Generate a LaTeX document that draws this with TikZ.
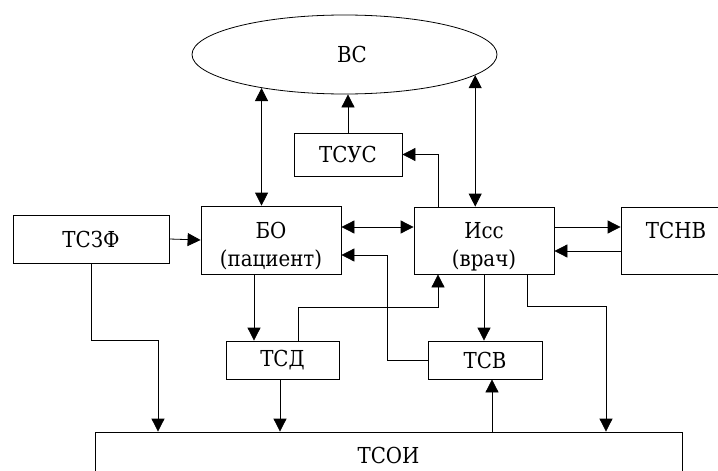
\documentclass[tikz,border=0pt]{standalone}
\usepackage{fontspec}
\setmainfont{DejaVu Serif Condensed}
\newfontfamily\blockfont{DejaVu Serif Condensed}
\usepackage{tikz}
\usetikzlibrary{calc,shapes.geometric,arrows.meta}

\begin{document}
\begin{tikzpicture}[x=1pt, y=-1pt, line width=0.8pt,
        block/.style={draw, rectangle, inner sep=0pt, align=center, font=\blockfont\fontsize{22}{28}\selectfont},
        twoline/.style={text height=54pt, text depth=2pt},
        arr/.style={-{Triangle[length=13pt,width=13pt]}},
        arrr/.style={{Triangle[length=13pt,width=13pt]}-{Triangle[length=13pt,width=13pt]}}]
            \useasboundingbox (0,0) rectangle (718,471);
            \clip (0,0) rectangle (718,471);
            % blocks
            \node[draw, ellipse, minimum width=305pt, minimum height=79pt, inner sep=0pt,
                  font=\blockfont\fontsize{22}{28}\selectfont] (vs) at (344.5,54.5) {\hspace{15pt}ВС};
            \node[block, minimum width=108pt, minimum height=43pt] (tsus) at (348,154.5) {ТСУС};
            \node[block, minimum width=156pt, minimum height=48pt] (tszf) at (91,239) {ТСЗФ};
            \node[block, twoline, minimum width=140pt, minimum height=68pt] (bo)   at (271,240) {БО\\(пациент)};
            \node[block, twoline, minimum width=140pt, minimum height=67pt] (iss)  at (484,240.5) {Исс\\(врач)};
            \node[block, twoline, minimum width=110pt, minimum height=67pt] (tsnv) at (676,240.5) {ТСНВ\\\mbox{}};
            \node[block, minimum width=113pt, minimum height=38pt] (tsd)  at (282.5,360) {ТСД};
            \node[block, minimum width=114pt, minimum height=38pt] (tsv)  at (485,360) {ТСВ};
            \node[block, minimum width=587pt, minimum height=46pt] (tsoi) at (388.5,455) {ТСОИ};
            % links
            \draw[arrr] (vs.202.3) to (vs.202.3 |- bo.north);
            \draw[arrr] (vs.351.1) to (vs.351.1 |- iss.north);
            \draw[arr] (tsus.north) to (tsus.north |- vs.south);
            \draw[arr] ($(iss.north)+(-46,0)$) |- (tsus.east);
            \draw[arr] (tszf.east) to (bo.west);
            \draw[arrr] ($(bo.east)+(0,-13)$) to ($(iss.west)+(0,-13.5)$);
            \draw[arr] ($(iss.east)+(0,-13.5)$) to ($(tsnv.west)+(0,-13.5)$);
            \draw[arr] ($(tsnv.west)+(0,10.5)$) to ($(iss.east)+(0,10.5)$);
            \draw[arr] (tsv.west) -| ($(bo.east)+(46,15)$) -- ($(bo.east)+(0,15)$);
            \draw[arr] ($(bo.south)+(-17,0)$) to ($(tsd.north)+(-28.5,0)$);
            \draw[arr] ($(tsd.north)+(15.5,0)$) |- ($(iss.south)+(-46,33)$) -- ($(iss.south)+(-46,0)$);
            \draw[arr] (iss.south) to (iss.south |- tsv.north);
            \draw[arr] ($(iss.south)+(43,0)$) |- ($(tsoi.north)+(217.5,-125)$) -- ($(tsoi.north)+(217.5,0)$);
            \draw[arr] (tszf.south) |- ($(tsoi.north)+(-230.5,-91)$) -- ($(tsoi.north)+(-230.5,0)$);
            \draw[arr] ($(tsd.south)+(-2.5,0)$) to ($(tsoi.north)+(-108.5,0)$);
            \draw[arr] ($(tsoi.north)+(103.5,0)$) to ($(tsv.south)+(7,0)$);
\end{tikzpicture}
\end{document}
